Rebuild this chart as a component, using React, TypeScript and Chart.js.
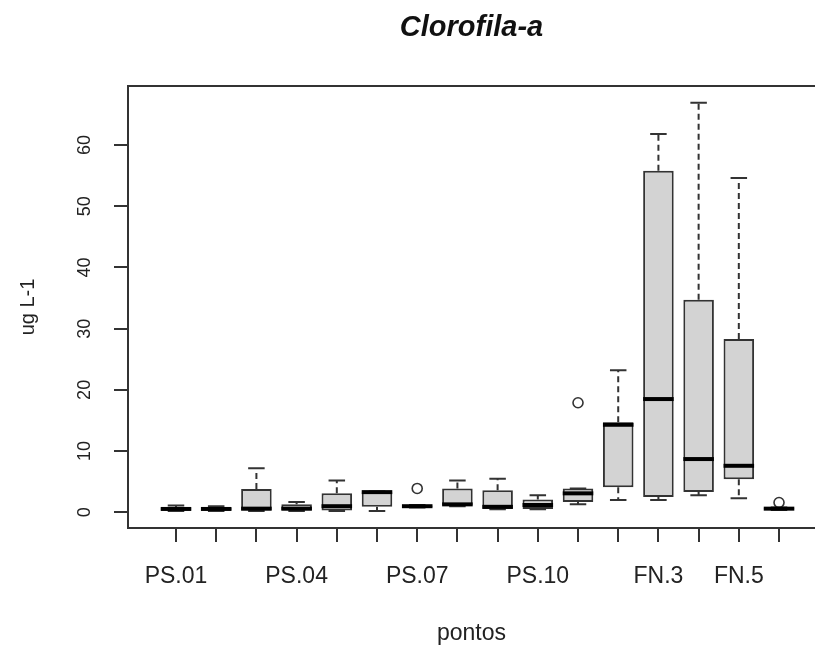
import React, { useEffect, useRef } from 'react';
import { Chart, registerables } from 'chart.js';

Chart.register(...registerables);

// Sampling stations along the x axis
const stations = [
  'PS.01', 'PS.02', 'PS.03', 'PS.04', 'PS.05', 'PS.06', 'PS.07', 'PS.08',
  'PS.09', 'PS.10', 'FN.1', 'FN.2', 'FN.3', 'FN.4', 'FN.5', 'FN.6',
];
// Station names printed under the axis (the rest would overlap)
const labelledStations = ['PS.01', 'PS.04', 'PS.07', 'PS.10', 'FN.3', 'FN.5'];

// Box-plot statistics, chlorophyll-a (ug L-1)
const whiskerLow = [0.2, 0.2, 0.2, 0.2, 0.2, 0.2, 0.8, 1.0, 0.5, 0.5, 1.3, 2.0, 2.0, 2.8, 2.3, 0.4];
const quartile1 = [0.35, 0.35, 0.3, 0.3, 0.3, 0.9, 0.85, 1.1, 0.55, 0.55, 1.7, 4.1, 2.5, 3.3, 5.4, 0.45];
const medians = [0.55, 0.55, 0.6, 0.6, 1.0, 3.3, 1.0, 1.3, 0.9, 1.2, 3.1, 14.3, 18.5, 8.7, 7.6, 0.6];
const quartile3 = [0.8, 0.75, 3.8, 1.3, 3.1, 3.4, 1.1, 3.9, 3.6, 2.1, 3.9, 14.7, 55.8, 34.7, 28.3, 0.7];
const whiskerHigh = [1.1, 1.0, 7.2, 1.7, 5.2, 3.4, 1.2, 5.2, 5.5, 2.8, 3.9, 23.2, 61.8, 66.9, 54.6, 0.8];

// Outlying observations
const outlierStations = ['PS.07', 'FN.1', 'FN.6'];
const outlierValues = [3.9, 17.9, 1.6];

const yTicks = [0, 10, 20, 30, 40, 50, 60];

const FONT = '"Liberation Sans", Arial, Helvetica, sans-serif';
const INK = '#333333';

const stationPos = (name: string) => stations.indexOf(name) + 1;

// Whiskers, staples and medians drawn on top of the floating-bar boxes
const boxplotDecor = {
  id: 'boxplotDecor',
  afterDatasetsDraw(chart: any) {
    const { ctx } = chart;
    const yScale = chart.scales.y;
    const meta = chart.getDatasetMeta(0);
    ctx.save();
    meta.data.forEach((bar: any, i: number) => {
      const { x, width } = bar.getProps(['x', 'width'], true);
      const yLow = yScale.getPixelForValue(whiskerLow[i]);
      const yQ1 = yScale.getPixelForValue(quartile1[i]);
      const yMed = yScale.getPixelForValue(medians[i]);
      const yQ3 = yScale.getPixelForValue(quartile3[i]);
      const yHigh = yScale.getPixelForValue(whiskerHigh[i]);

      ctx.strokeStyle = INK;
      ctx.lineWidth = 2;
      ctx.setLineDash([6, 4]);
      ctx.beginPath();
      ctx.moveTo(x, yQ3);
      ctx.lineTo(x, yHigh);
      ctx.moveTo(x, yQ1);
      ctx.lineTo(x, yLow);
      ctx.stroke();

      ctx.setLineDash([]);
      const half = width * 0.27;
      ctx.beginPath();
      ctx.moveTo(x - half, yHigh);
      ctx.lineTo(x + half, yHigh);
      ctx.moveTo(x - half, yLow);
      ctx.lineTo(x + half, yLow);
      ctx.stroke();

      ctx.strokeStyle = '#000000';
      ctx.lineWidth = 4;
      ctx.beginPath();
      ctx.moveTo(x - width / 2, yMed);
      ctx.lineTo(x + width / 2, yMed);
      ctx.stroke();
    });
    ctx.restore();
  },
};

// Top edge of the plot frame and vertical value labels on the y axis
const frameAndLabels = {
  id: 'frameAndLabels',
  afterDraw(chart: any) {
    const { ctx, chartArea } = chart;
    const yScale = chart.scales.y;
    ctx.save();
    ctx.strokeStyle = INK;
    ctx.lineWidth = 2;
    ctx.beginPath();
    ctx.moveTo(chartArea.left - 1, chartArea.top);
    ctx.lineTo(chart.width, chartArea.top);
    ctx.stroke();

    ctx.fillStyle = '#222222';
    ctx.font = `18px ${FONT}`;
    ctx.textAlign = 'center';
    ctx.textBaseline = 'middle';
    yTicks.forEach((v) => {
      ctx.save();
      ctx.translate(85, yScale.getPixelForValue(v));
      ctx.rotate(-Math.PI / 2);
      ctx.fillText(String(v), 0, 0);
      ctx.restore();
    });
    ctx.restore();
  },
};

export default function App() {
  const canvasRef = useRef<HTMLCanvasElement | null>(null);

  useEffect(() => {
    document.body.style.margin = '0';
    const canvas = canvasRef.current;
    if (!canvas) return;

    const chart = new Chart(canvas, {
      type: 'bar',
      data: {
        datasets: [
          {
            type: 'bar',
            data: stations.map((s, i) => ({ x: i + 1, y: [quartile1[i], quartile3[i]] })) as any,
            backgroundColor: '#d3d3d3',
            borderColor: INK,
            borderWidth: 2,
            borderSkipped: false,
            barPercentage: 0.76,
            categoryPercentage: 1,
          },
          {
            type: 'scatter',
            data: outlierStations.map((s, i) => ({ x: stationPos(s), y: outlierValues[i] })),
            pointStyle: 'circle',
            pointRadius: 5,
            pointBorderWidth: 1.6,
            pointBorderColor: INK,
            pointBackgroundColor: 'rgba(255,255,255,0)',
          } as any,
        ],
      },
      options: {
        animation: false,
        responsive: true,
        maintainAspectRatio: false,
        devicePixelRatio: 1,
        layout: { padding: 0, autoPadding: false },
        events: [],
        plugins: {
          legend: { display: false },
          tooltip: { enabled: false },
          title: {
            display: true,
            fullSize: false,
            text: 'Clorofila-a',
            color: '#111111',
            font: { family: FONT, size: 29, weight: 'bold', style: 'italic' },
            padding: { top: 11, bottom: 40.2 },
          },
        },
        scales: {
          x: {
            type: 'linear',
            min: -0.194,
            max: 16.895,
            offset: false,
            afterBuildTicks: (scale: any) => {
              scale.ticks = stations.map((_, i) => ({ value: i + 1 }));
            },
            afterFit: (scale: any) => {
              scale.height = 125;
              scale.paddingLeft = 0;
              scale.paddingRight = 0;
            },
            grid: {
              offset: false,
              drawOnChartArea: false,
              drawTicks: true,
              tickLength: 14,
              color: INK,
              lineWidth: 2,
            },
            border: { display: true, color: INK, width: 2 },
            ticks: {
              autoSkip: false,
              maxRotation: 0,
              minRotation: 0,
              padding: 21,
              color: '#222222',
              font: { family: FONT, size: 23 },
              callback: (_v: any, i: number) =>
                labelledStations.includes(stations[i]) ? stations[i] : '',
            },
            title: {
              display: true,
              text: 'pontos',
              color: '#222222',
              font: { family: FONT, size: 23 },
              padding: { top: 0, bottom: 6 },
            },
          },
          y: {
            type: 'linear',
            min: -2.56,
            max: 69.63,
            afterBuildTicks: (scale: any) => {
              scale.ticks = yTicks.map((v) => ({ value: v }));
            },
            afterFit: (scale: any) => {
              scale.width = 128;
              scale.paddingTop = 0;
              scale.paddingBottom = 0;
            },
            grid: {
              drawOnChartArea: false,
              drawTicks: true,
              tickLength: 14,
              color: INK,
              lineWidth: 2,
            },
            border: { display: true, color: INK, width: 2 },
            ticks: { display: false },
            title: {
              display: true,
              text: 'ug L-1',
              color: '#222222',
              font: { family: FONT, size: 20 },
              padding: { top: 16, bottom: 0 },
            },
          },
        },
      },
      plugins: [boxplotDecor, frameAndLabels],
    });

    return () => chart.destroy();
  }, []);

  return (
    <div style={{ position: 'absolute', left: 0, top: 0, width: 815, height: 653 }}>
      <canvas ref={canvasRef} />
    </div>
  );
}
